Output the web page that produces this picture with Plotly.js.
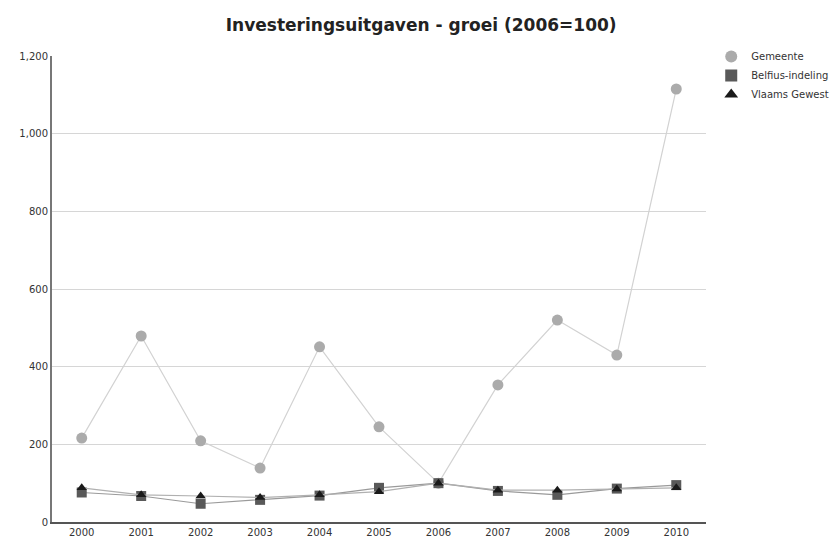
<!DOCTYPE html>
<html><head><meta charset="utf-8">
<script src="https://cdn.plot.ly/plotly-3.0.1.min.js"></script>
<style>html,body{margin:0;padding:0;background:#fff}#c{width:834px;height:547px}</style>
</head><body><div id="c"></div>
<script>
const years = ['2000','2001','2002','2003','2004','2005','2006','2007','2008','2009','2010'];
const gemeente = [216, 479, 209, 139, 451, 245, 100, 353, 520, 430, 1115];
const belfius = [76, 67, 47, 57, 68, 88, 100, 80, 70, 86, 95];
const vlaams = [88, 70, 67, 63, 70, 78, 100, 82, 82, 85, 88];
const yTicks = [0, 200, 400, 600, 800, 1000, 1200];
const yTickText = ['0', '200', '400', '600', '800', '1,000', '1,200'];
const seriesNames = ['Gemeente', 'Belfius-indeling', 'Vlaams Gewest'];

const markerStyles = [
  {symbol: 'circle', size: 11, color: '#ababab'},
  {symbol: 'square', size: 10, color: '#595959'},
  {symbol: 'triangle-up', size: 9, color: '#1a1a1a'}
];
const lineStyles = [
  {color: '#d2d2d2', width: 1.2},
  {color: '#9a9a9a', width: 1.2},
  {color: '#b0b0b0', width: 1.2}
];
const values = [gemeente, belfius, vlaams];
const traces = [];
values.forEach((v, i) => {
  traces.push({x: years, y: v, name: seriesNames[i], type: 'scatter', mode: 'lines+markers',
    line: lineStyles[i], marker: markerStyles[i], showlegend: false});
});
values.forEach((v, i) => {
  traces.push({x: [years[0]], y: [null], name: seriesNames[i], type: 'scatter', mode: 'markers',
    marker: Object.assign({}, markerStyles[i], {size: markerStyles[i].size - 2}), showlegend: true});
});
const layout = {
  width: 834, height: 547,
  margin: {l: 52, r: 128, t: 56, b: 25, autoexpand: false},
  paper_bgcolor: '#fff', plot_bgcolor: '#fff',
  title: {text: 'Investeringsuitgaven - groei (2006=100)', x: 0.505, xanchor: 'center', y: 0.955, yanchor: 'middle',
          font: {family: 'DejaVu Sans', size: 17, color: '#222', weight: 'bold'}},
  font: {family: 'DejaVu Sans', size: 10, color: '#333'},
  xaxis: {type: 'category', range: [-0.5, 10.5], showgrid: false, showline: true, linecolor: '#555', linewidth: 2,
          ticks: '', tickfont: {size: 10, color: '#333'}, zeroline: false, fixedrange: true},
  yaxis: {range: [0, 1200], tickvals: yTicks, ticktext: yTickText, showgrid: true, gridcolor: '#d6d6d6', gridwidth: 1,
          showline: true, linecolor: '#777', linewidth: 2, ticks: '', zeroline: false,
          tickfont: {size: 10, color: '#333'}, fixedrange: true},
  showlegend: true,
  legend: {x: 1.008, xanchor: 'left', y: 1.03, yanchor: 'top', font: {size: 10, color: '#333'},
           tracegroupgap: 0, itemsizing: 'constant', itemwidth: 30, bgcolor: 'rgba(0,0,0,0)'},
  hovermode: false
};
Plotly.newPlot('c', traces, layout, {displayModeBar: false, staticPlot: true});
</script></body></html>
